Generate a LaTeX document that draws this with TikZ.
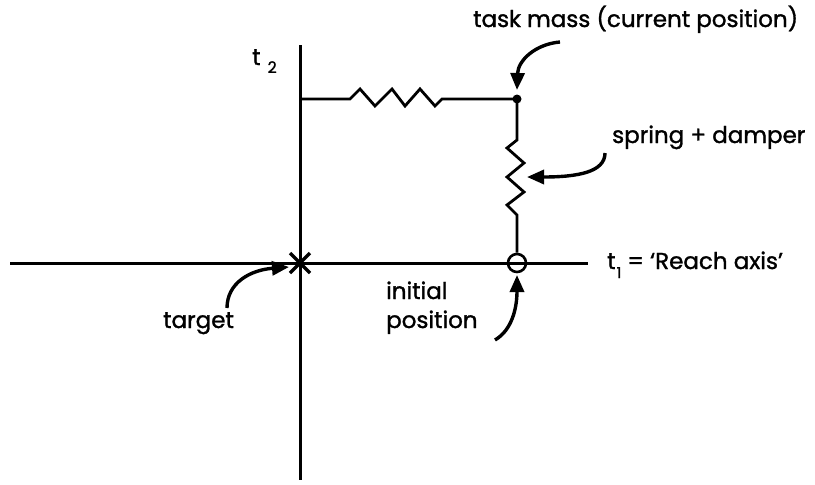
\documentclass[tikz,border=0pt]{standalone}
\usepackage{fontspec}
\setmainfont{Poppins}[FakeBold=1.3]
\usetikzlibrary{arrows.meta,calc}
\begin{document}
\begin{tikzpicture}[x=1pt,y=-1pt,
  axis/.style={line width=3pt},
  wire/.style={line width=2.8pt, line join=miter},
  pointer/.style={line width=3.4pt, -{Triangle[length=17pt,width=14pt]}},
  lbl/.style={font=\fontsize{23}{29}\selectfont, inner sep=0pt},
]
\useasboundingbox (0,0) rectangle (815,485);
% axes
\coordinate (xl) at (10,263);
\coordinate (xr) at (588,263);
\coordinate (yt) at (300,45);
\coordinate (yb) at (300,480);
\draw[axis] (xl) -- (xr);
\draw[axis] (yt) -- (yb);
% target marker
\coordinate (target) at (300,263);
\draw[line width=3.4pt] ($(target)+(-10,-10)$) -- ($(target)+(10,10)$)
  ($(target)+(-10,10)$) -- ($(target)+(10,-10)$);
% mass and springs
\coordinate (ya) at (300,99);
\coordinate (mass) at (517,99);
\draw[wire] (ya) -- (350,99) -- (360,89) -- (375,106) -- (392,89) -- (405,106)
  -- (420,89) -- (435,106) -- (442,99) -- (mass);
\node[circle, draw, line width=2.6pt, minimum size=18pt, inner sep=0pt] (init) at (517,263) {};
\draw[wire] (mass) -- (517,140) -- (507,148) -- (524,163) -- (507,177) -- (524,192)
  -- (507,205) -- (517,215) -- (init.north);
\fill (mass) circle (4.5pt);
% labels
\node[lbl, anchor=base west] (tmlab) at (473,27) {task mass (current position)};
\node[lbl, anchor=base west] (sdlab) at (612,143) {spring + damper};
\node[lbl, anchor=base west] (t1lab) at (607,269) {t\kern1pt\raisebox{-9pt}{\fontsize{15}{15}\selectfont 1}\kern6pt= ‘Reach axis’};
\node[lbl, anchor=base west] (tglab) at (163,328) {target};
\node[lbl, anchor=base west, align=left] (iplab) at (386,328) {initial\\position};
\node[lbl, anchor=base west] (t2lab) at (252,65) {t\kern7pt\raisebox{-8pt}{\fontsize{16}{16}\selectfont 2}};
% pointers
\coordinate (tmA) at (560,42);
\coordinate (tmB) at (517,90);
\draw[pointer] (tmA) .. controls (536,44) and (518,60) .. (tmB);
\coordinate (sdA) at (605,153);
\coordinate (sdB) at (527,177);
\draw[pointer] (sdA) .. controls (605,172) and (578,177) .. (sdB);
\coordinate (tgA) at (227,308);
\coordinate (tgB) at (289,267);
\draw[pointer] (tgA) .. controls (227,283) and (250,270) .. (tgB);
\coordinate (ipA) at (495,340);
\coordinate (ipB) at (517,275);
\draw[pointer] (ipA) .. controls (512,330) and (517,308) .. (ipB);
\end{tikzpicture}
\end{document}
